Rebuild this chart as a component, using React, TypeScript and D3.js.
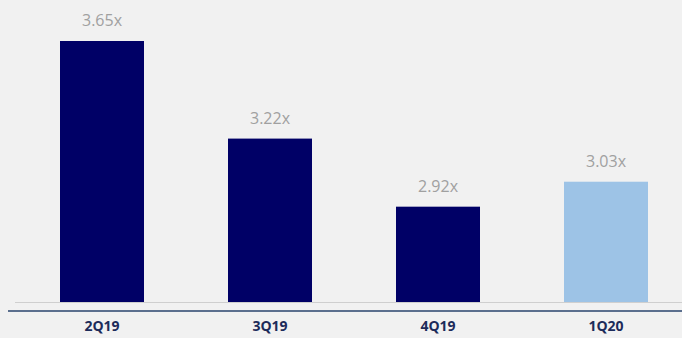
import React from "react";
import * as d3 from "d3";

const categories = ["2Q19", "3Q19", "4Q19", "1Q20"];
const values = [3.65, 3.22, 2.92, 3.03];
const valueLabels = ["3.65x", "3.22x", "2.92x", "3.03x"];
const highlighted = [false, false, false, true];

const W = 682;
const H = 338;

export default function App() {
  const x = d3.scaleBand<string>().domain(categories).range([18, 690]).paddingInner(0.5).paddingOuter(0.25);
  const y = d3.scaleLinear().domain([2.5, 3.65]).range([302, 41]);
  const font = "'Open Sans', sans-serif";
  return (
    <svg width={W} height={H} style={{ position: "absolute", left: 0, top: 0, background: "#f1f1f1" }}>
      <rect x={0} y={0} width={W} height={H} fill="#f1f1f1" />
      {categories.map((c, i) => (
        <g key={c}>
          <rect
            x={x(c)!}
            y={y(values[i])}
            width={x.bandwidth()}
            height={y(2.5) - y(values[i])}
            fill={highlighted[i] ? "#9dc3e6" : "#000066"}
          />
          <text
            x={x(c)! + x.bandwidth() / 2}
            y={y(values[i]) - 15}
            textAnchor="middle"
            fontFamily={font}
            fontSize={16}
            fill="#a0a0a0"
          >
            {valueLabels[i]}
          </text>
          <text
            x={x(c)! + x.bandwidth() / 2}
            y={331}
            textAnchor="middle"
            fontFamily={font}
            fontSize={14}
            fontWeight="bold"
            fill="#1c2b5a"
          >
            {c}
          </text>
        </g>
      ))}
      <line x1={15} x2={W} y1={302.5} y2={302.5} stroke="#cfcfcf" strokeWidth={1} />
      <line x1={8} x2={W} y1={311} y2={311} stroke="#5b6f8e" strokeWidth={2} />
    </svg>
  );
}
